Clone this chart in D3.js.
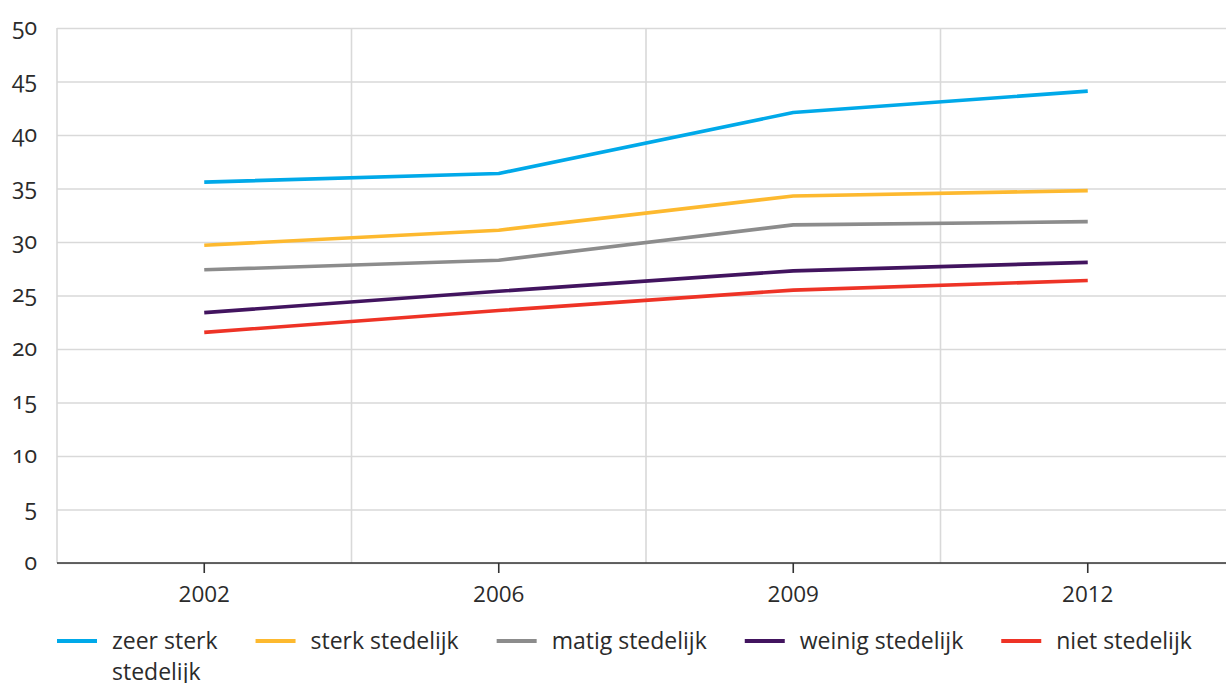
<!DOCTYPE html>
<html>
<head>
<meta charset="utf-8">
<script src="https://cdn.jsdelivr.net/npm/d3@7/dist/d3.min.js"></script>
<style>
  html, body { margin: 0; padding: 0; background: #fff; }
  svg { display: block; }
  text { font-family: "Open Sans", "Noto Sans", sans-serif; fill: #2b2b2b; }
</style>
</head>
<body>
<svg id="chart" width="1226" height="683"></svg>
<script>
const years = ["2002", "2006", "2009", "2012"];
const seriesNames = ["zeer sterk stedelijk", "sterk stedelijk", "matig stedelijk", "weinig stedelijk", "niet stedelijk"];
const zeerSterk = [35.6, 36.4, 42.1, 44.1];
const sterk     = [29.7, 31.1, 34.3, 34.8];
const matig     = [27.4, 28.3, 31.6, 31.9];
const weinig    = [23.4, 25.4, 27.3, 28.1];
const niet      = [21.55, 23.6, 25.5, 26.4];
const yTicks = [0, 5, 10, 15, 20, 25, 30, 35, 40, 45, 50];
const colors = ["#00a9e9", "#fdb92f", "#8c8c8c", "#42145f", "#ee3326"];

const seriesValues = [zeerSterk, sterk, matig, weinig, niet];
const series = seriesNames.map((name, i) => ({ name, color: colors[i], values: seriesValues[i] }));

const svg = d3.select("#chart");
const left = 57, plotTop = 28, plotBottom = 563;
const bandW = 294.5;

const x = d3.scaleBand().domain(years).range([left, left + bandW * years.length]).paddingInner(0).paddingOuter(0);
const y = d3.scaleLinear().domain([0, 50]).range([plotBottom, plotTop]);

// horizontal grid
svg.append("g")
  .attr("class", "ygrid")
  .attr("transform", `translate(${left},0)`)
  .call(d3.axisLeft(y).tickValues(yTicks).tickSize(-(1226 - left)).tickFormat(""))
  .call(g => g.select(".domain").remove())
  .call(g => g.selectAll("line").attr("stroke", "#d9d9d9").attr("stroke-width", 1.6));

// vertical grid at band edges + left
const edges = [left].concat(years.slice(1).map(d => x(d)));
svg.append("g").selectAll("line").data(edges).join("line")
  .attr("x1", d => d).attr("x2", d => d)
  .attr("y1", plotTop).attr("y2", plotBottom)
  .attr("stroke", "#d9d9d9").attr("stroke-width", 1.6);

// y labels
svg.append("g").selectAll("text").data(yTicks).join("text")
  .attr("x", 37).attr("y", d => y(d))
  .attr("dy", "0.3em")
  .attr("text-anchor", "end")
  .style("font-size", "23px")
  .style("font-variant-numeric", "oldstyle-nums")
  .style("font-feature-settings", "'onum' 1")
  .text(d => d);

// x axis
const xAxis = svg.append("g")
  .attr("transform", `translate(0,${plotBottom})`)
  .call(d3.axisBottom(x).tickSize(10).tickSizeOuter(0).tickPadding(13));
xAxis.select(".domain").attr("stroke", "#333").attr("stroke-width", 1.6).attr("d", `M${left},0H1226`);
xAxis.selectAll(".tick line").attr("stroke", "#333").attr("stroke-width", 1.6);
xAxis.selectAll(".tick text").style("font-size", "22.5px").style("font-family", "'Open Sans', sans-serif").attr("fill", "#2b2b2b");

// lines
const line = d3.line()
  .x((d, i) => x(years[i]) + x.bandwidth() / 2)
  .y(d => y(d))
  .curve(d3.curveLinear);

svg.append("g").selectAll("path").data(series).join("path")
  .attr("fill", "none")
  .attr("stroke", d => d.color)
  .attr("stroke-width", 3.6)
  .attr("stroke-linejoin", "round")
  .attr("d", d => line(d.values));

// legend
const legend = svg.append("g").attr("class", "legend");
let cx = left;
const ly = 641;
series.forEach((s, i) => {
  const g = legend.append("g");
  g.append("line").attr("x1", cx).attr("x2", cx + 40).attr("y1", ly).attr("y2", ly)
    .attr("stroke", s.color).attr("stroke-width", 4);
  const t = g.append("text").attr("x", cx + 55).attr("y", ly)
    .style("font-size", "23px");
  const words = s.name.split(" ");
  let lines = [s.name];
  if (i === 0) lines = [words.slice(0, 2).join(" "), words.slice(2).join(" ")];
  lines.forEach((ln, k) => {
    t.append("tspan").attr("x", cx + 55).attr("dy", k === 0 ? "0.35em" : "1.35em").text(ln);
  });
  const w = d3.max(t.selectAll("tspan").nodes(), n => n.getComputedTextLength());
  cx = cx + 55 + w + 38;
});
</script>
</body>
</html>
